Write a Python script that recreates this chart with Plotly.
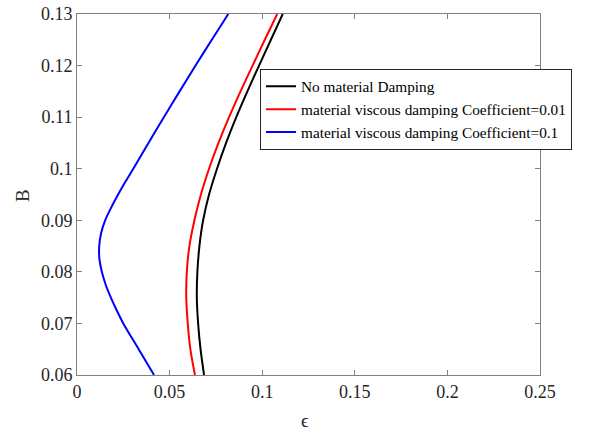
import plotly.graph_objects as go

# Data (B on y, epsilon on x)
B_black = [0.060, 0.065, 0.070, 0.075, 0.080, 0.085, 0.090, 0.095, 0.100, 0.105, 0.110, 0.115, 0.120, 0.125, 0.130]
eps_black = [0.0686, 0.0667, 0.0654, 0.0647, 0.0650, 0.0661, 0.0681, 0.0713, 0.0756, 0.0805, 0.0860, 0.0920, 0.0983, 0.1047, 0.1111]

B_red = [0.060, 0.065, 0.070, 0.075, 0.080, 0.085, 0.090, 0.095, 0.100, 0.105, 0.110, 0.115, 0.120, 0.125, 0.130]
eps_red = [0.0637, 0.0612, 0.0598, 0.0590, 0.0593, 0.0607, 0.0634, 0.0669, 0.0713, 0.0764, 0.0821, 0.0883, 0.0948, 0.1014, 0.1081]

B_blue = [0.060, 0.065, 0.070, 0.0725, 0.075, 0.0775, 0.080, 0.0825, 0.085, 0.0875, 0.090, 0.0925, 0.095, 0.0975, 0.100, 0.105, 0.110, 0.115, 0.120, 0.125, 0.130]
eps_blue = [0.0416, 0.0333, 0.0250, 0.0215, 0.0183, 0.0155, 0.0134, 0.0121, 0.0120, 0.0130, 0.0152, 0.0185, 0.0222, 0.0262, 0.0304, 0.0386, 0.0469, 0.0554, 0.0640, 0.0728, 0.0817]

names = ["No material Damping",
         "material viscous damping Coefficient=0.01",
         "material viscous damping Coefficient=0.1"]
colors = ["#000000", "#ff0000", "#0000ff"]

x_ticks = [0, 0.05, 0.1, 0.15, 0.2, 0.25]
x_ticklabels = ["0", "0.05", "0.1", "0.15", "0.2", "0.25"]
y_ticks = [0.06, 0.07, 0.08, 0.09, 0.10, 0.11, 0.12, 0.13]
y_ticklabels = ["0.06", "0.07", "0.08", "0.09", "0.1", "0.11", "0.12", "0.13"]

FONT = "Liberation Serif"
TXT = "#262626"

fig = go.Figure()
for xs, ys, nm, c in [(eps_black, B_black, names[0], colors[0]),
                      (eps_red, B_red, names[1], colors[1]),
                      (eps_blue, B_blue, names[2], colors[2])]:
    fig.add_trace(go.Scatter(x=xs, y=ys, mode="lines", name=nm,
                             line=dict(color=c, width=2, shape="spline", smoothing=0.8)))

axis_common = dict(showline=True, linecolor="#808080", linewidth=1, mirror="ticks",
                   ticks="inside", ticklen=5, tickcolor="#808080", showgrid=False,
                   zeroline=False, automargin=False,
                   tickfont=dict(family=FONT, size=18, color=TXT))

fig.update_layout(
    width=590, height=430,
    margin=dict(l=77, r=50, t=14, b=55),
    paper_bgcolor="white", plot_bgcolor="white",
    font=dict(family=FONT, color=TXT),
    xaxis=dict(range=[0, 0.25], tickvals=x_ticks, ticktext=x_ticklabels, **axis_common),
    yaxis=dict(range=[0.06, 0.13], tickvals=y_ticks, ticktext=y_ticklabels, **axis_common),
    legend=dict(x=0.3952, y=0.848, xanchor="left", yanchor="top",
                bgcolor="white", bordercolor=TXT, borderwidth=1,
                font=dict(family=FONT, size=15.3, color="#000000"),
                tracegroupgap=0, itemwidth=30),
    showlegend=True,
    annotations=[
        dict(text="ϵ", xref="paper", yref="paper", x=0.4924, y=-0.1247,
             xanchor="center", yanchor="middle", showarrow=False,
             font=dict(family=FONT, size=19, color=TXT)),
        dict(text="B", xref="paper", yref="paper", x=-0.1188, y=0.4986,
             xanchor="center", yanchor="middle", showarrow=False, textangle=-90,
             font=dict(family=FONT, size=19, color=TXT)),
    ],
)

fig.write_html("out.html", config={"displayModeBar": False},
               post_script="document.body.style.margin='0';")
